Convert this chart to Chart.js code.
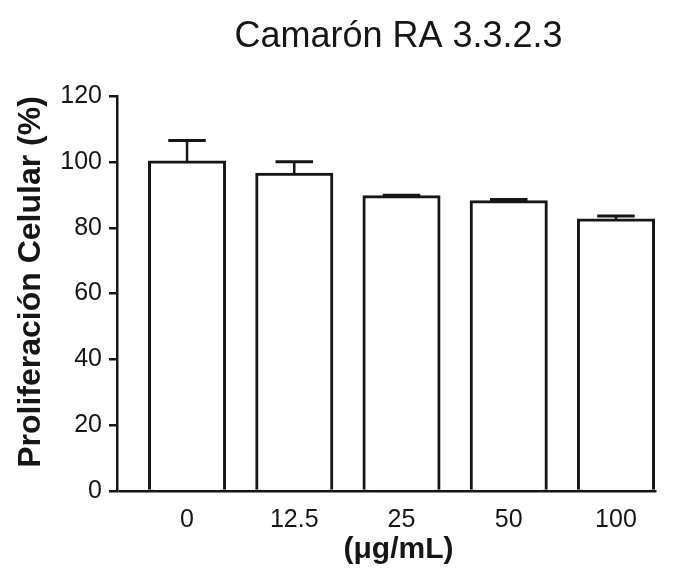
<!DOCTYPE html>
<html>
<head>
<meta charset="utf-8">
<script src="https://cdn.jsdelivr.net/npm/chart.js@4/dist/chart.umd.min.js"></script>
<style>
  html, body { margin: 0; padding: 0; background: #ffffff; }
  #wrap { width: 682px; height: 579px; }
</style>
</head>
<body>
<div id="wrap"><canvas id="c" width="682" height="579"></canvas></div>
<script>
// Concentrations tested (µg/mL)
const doses = ['0', '12.5', '25', '50', '100'];
// Mean cell proliferation (%) and standard deviation for each concentration
const proliferation = [100.0, 96.3, 89.4, 87.9, 82.4];
const deviation = [6.5, 3.8, 0.5, 0.7, 1.2];
// Y axis range and step
const yTicks = { min: 0, max: 120, step: 20 };

const INK = '#161616';
const FONT = "'Liberation Sans', Arial, Helvetica, sans-serif";

// Upward error bars (mean + SD) with a horizontal cap
const errorBars = {
  id: 'errorBars',
  afterDatasetsDraw(chart) {
    const meta = chart.getDatasetMeta(0);
    const yScale = chart.scales.y;
    const ctx = chart.ctx;
    ctx.save();
    ctx.strokeStyle = INK;
    meta.data.forEach((bar, i) => {
      const top = yScale.getPixelForValue(proliferation[i] + deviation[i]);
      const half = bar.width * 0.25;
      ctx.lineWidth = 2.5;
      ctx.beginPath();
      ctx.moveTo(bar.x, bar.y);
      ctx.lineTo(bar.x, top);
      ctx.stroke();
      ctx.lineWidth = 3;
      ctx.beginPath();
      ctx.moveTo(bar.x - half, top);
      ctx.lineTo(bar.x + half, top);
      ctx.stroke();
    });
    ctx.restore();
  }
};

new Chart(document.getElementById('c'), {
  type: 'bar',
  data: {
    datasets: [{
      data: doses.map((d, i) => ({ x: i, y: proliferation[i] })),
      backgroundColor: '#ffffff',
      borderColor: INK,
      borderWidth: 3,
      inflateAmount: 1.5,
      barPercentage: 0.70,
      categoryPercentage: 1.0
    }]
  },
  options: {
    responsive: false,
    animation: false,
    devicePixelRatio: 1,
    layout: { padding: { left: 0, right: 2, top: 0, bottom: 11 } },
    plugins: {
      legend: { display: false },
      tooltip: { enabled: false },
      title: {
        display: true,
        text: 'Camarón RA 3.3.2.3',
        fullSize: false,
        color: INK,
        font: { family: FONT, size: 36, weight: 'normal' },
        padding: { top: 15, bottom: 38 }
      }
    },
    scales: {
      x: {
        type: 'linear',
        offset: false,
        min: -0.653,
        max: 4.597,
        afterBuildTicks(scale) {
          scale.ticks = doses.map((d, i) => ({ value: i }));
        },
        afterFit(scale) { scale.height = 77; },
        grid: { display: false, drawTicks: false },
        border: { display: false },
        ticks: {
          color: INK,
          padding: 14,
          font: { family: FONT, size: 25 },
          callback: (v) => doses[v]
        },
        title: {
          display: true,
          text: '(μg/mL)',
          color: INK,
          padding: { top: 0, bottom: 0 },
          font: { family: FONT, size: 30, weight: 'bold' }
        }
      },
      y: {
        min: yTicks.min,
        max: yTicks.max,
        afterFit(scale) { scale.width = 117; },
        ticks: {
          stepSize: yTicks.step,
          color: INK,
          padding: 7,
          font: { family: FONT, size: 25 }
        },
        grid: {
          drawOnChartArea: true,
          drawTicks: true,
          tickLength: 8,
          lineWidth: 2.5,
          tickWidth: 2.5,
          tickColor: INK,
          color: (c) => (c.tick && c.tick.value === 0 ? INK : 'rgba(0,0,0,0)')
        },
        border: { display: true, color: INK, width: 2.5, dash: [538, 400] },
        title: {
          display: true,
          text: 'Proliferación Celular (%)',
          align: 'end',
          color: INK,
          padding: { top: 12, bottom: 0 },
          font: { family: FONT, size: 32, weight: 'bold' }
        }
      }
    }
  },
  plugins: [errorBars]
});
</script>
</body>
</html>
